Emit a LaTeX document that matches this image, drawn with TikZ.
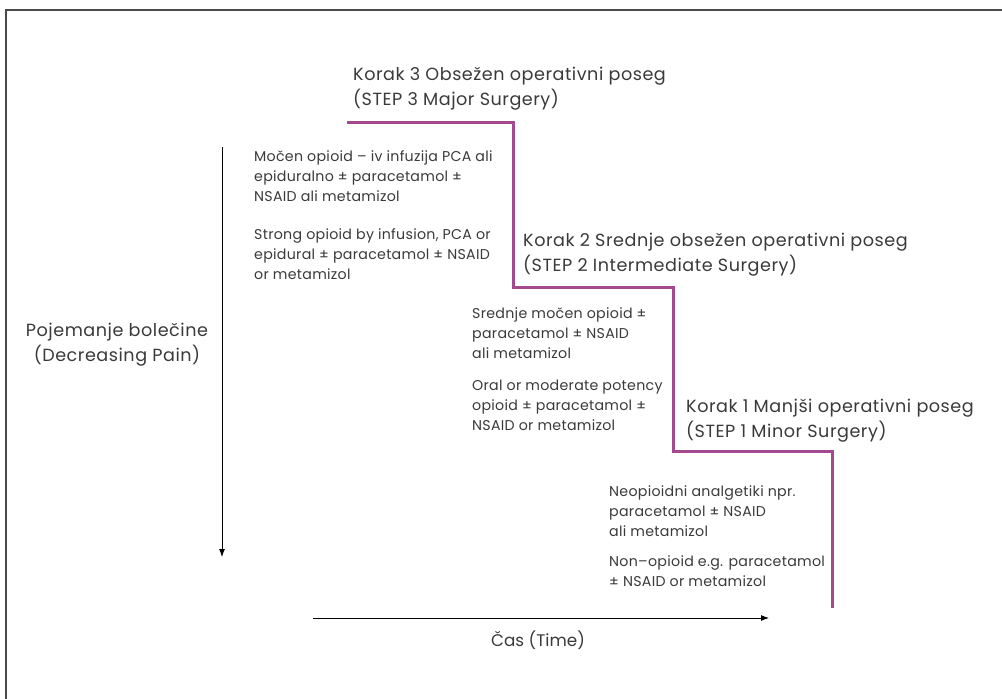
\documentclass[tikz,border=0pt]{standalone}
\usepackage{fontspec}
\setmainfont{Poppins}
\newfontfamily\bodyfont{Poppins}[LetterSpace=2]
\newfontfamily\titlefont{Poppins}[LetterSpace=3]
\usetikzlibrary{arrows.meta}
\definecolor{steppurple}{HTML}{A4488F}
\definecolor{txt}{HTML}{3A3A3A}
\definecolor{frame}{HTML}{4A4A4A}
\tikzset{
  body/.style={anchor=north west, inner sep=0pt, align=left, text=txt, font=\bodyfont\fontsize{14.2}{20}\selectfont},
  title/.style={anchor=north west, inner sep=0pt, align=left, text=txt, font=\titlefont\fontsize{17.6}{25}\selectfont},
  axlabel/.style={inner sep=0pt, align=center, text=txt, font=\titlefont\fontsize{17.6}{25}\selectfont},
  timelabel/.style={inner sep=0pt, align=center, text=txt, font=\fontsize{16.8}{25}\selectfont},
  stepline/.style={draw=steppurple, line width=3pt},
  axis/.style={draw=black, line width=0.9pt, -{Latex[length=8pt,width=6pt]}}
}
\begin{document}
\begin{tikzpicture}[x=1pt,y=-1pt]
\useasboundingbox (0,0) rectangle (1002,699);
% frame (top and left edges)
\draw[frame, line width=1.6pt] (6,699) -- (6,10) -- (1002,10);
% step line
\coordinate (s0) at (347,122);
\coordinate (s1) at (513,122);
\coordinate (s2) at (513,287);
\coordinate (s3) at (673,287);
\coordinate (s4) at (673,451);
\coordinate (s5) at (832,451);
\coordinate (s6) at (832,608);
\draw[stepline] (s0) -- (s1) -- (s2) -- (s3) -- (s4) -- (s5) -- (s6);
% titles
\node[title] (t3) at (353,67) {Korak 3 Obsežen operativni poseg\\(STEP 3 Major Surgery)};
\node[title] (t2) at (523,233) {Korak 2 Srednje obsežen operativni poseg\\(STEP 2 Intermediate Surgery)};
\node[title] (t1) at (686,399) {Korak 1 Manjši operativni poseg\\(STEP 1 Minor Surgery)};
% bodies
\node[body] (b3a) at (254,150) {Močen opioid – iv infuzija PCA ali\\epiduralno ± paracetamol ±\\NSAID ali metamizol};
\node[body] (b3b) at (254,228) {Strong opioid by infusion, PCA or\\epidural ± paracetamol ± NSAID\\or metamizol};
\node[body] (b2a) at (472,307) {Srednje močen opioid ±\\paracetamol ± NSAID\\ali metamizol};
\node[body] (b2b) at (472,380) {Oral or moderate potency\\opioid ± paracetamol ±\\NSAID or metamizol};
\node[body] (b1a) at (609,485) {Neopioidni analgetiki npr.\\paracetamol ± NSAID\\ali metamizol};
\node[body] (b1b) at (609,555) {Non–opioid e.g. paracetamol\\± NSAID or metamizol};
% axes
\coordinate (ytop) at (222,147);
\coordinate (ybot) at (222,557);
\draw[axis] (ytop) -- (ybot);
\coordinate (xl) at (313,618);
\coordinate (xr) at (769,618);
\draw[axis] (xl) -- (xr);
\node[axlabel] (ylab) at (117,345) {Pojemanje bolečine\\(Decreasing Pain)};
\node[timelabel] (xlab) at (538,640) {Čas (Time)};
\end{tikzpicture}
\end{document}
